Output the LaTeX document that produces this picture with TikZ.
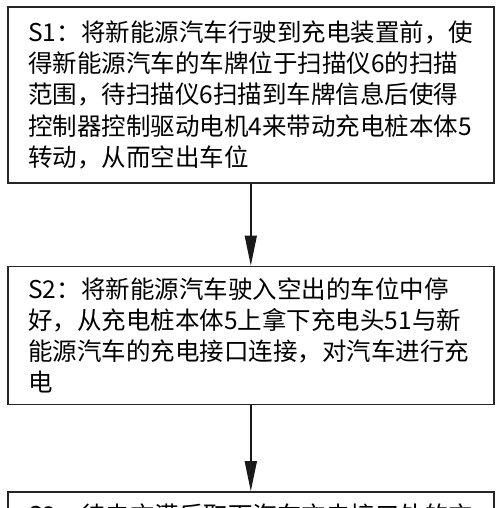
\documentclass[tikz,border=0pt]{standalone}
\usepackage{fontspec}
\newfontfamily\cjk{Noto Sans CJK SC}
\usetikzlibrary{positioning, arrows.meta}

\tikzset{
  stepbox/.style={draw=black!85, line width=1.6pt, rectangle,
    minimum width=486pt, text width=445pt, align=left,
    inner xsep=0pt, inner ysep=0pt,
    font=\cjk\fontsize{24.5pt}{31.25pt}\selectfont},
}

\begin{document}
\begin{tikzpicture}[x=1pt, y=1pt, >={Triangle[length=30pt, width=12pt]}, line width=1.6pt]
  \useasboundingbox (0,0) rectangle (500,-508);
  \clip (0,0) rectangle (500,-508);

  % 1. 步骤框
  \node[stepbox, anchor=north west, minimum height=176pt] (s1) at (7,-6)
    {S1：将新能源汽车行驶到充电装置前，使\\
     得新能源汽车的车牌位于扫描仪6的扫描\\
     范围，待扫描仪6扫描到车牌信息后使得\\
     控制器控制驱动电机4来带动充电桩本体5\\
     转动，从而空出车位};
  \node[stepbox, below=82pt of s1, minimum height=138pt] (s2)
    {S2：将新能源汽车驶入空出的车位中停\\
     好，从充电桩本体5上拿下充电头51与新\\
     能源汽车的充电接口连接，对汽车进行充\\
     电};
  \node[stepbox, below=86pt of s2, minimum height=46pt] (s3)
    {S3：待电充满后取下汽车充电接口处的充};

  % 2. 箭头
  \draw[->, draw=black!90] (s1.south) -- (s2.north);
  \draw[->, draw=black!90] (s2.south) -- (s3.north);
\end{tikzpicture}
\end{document}
